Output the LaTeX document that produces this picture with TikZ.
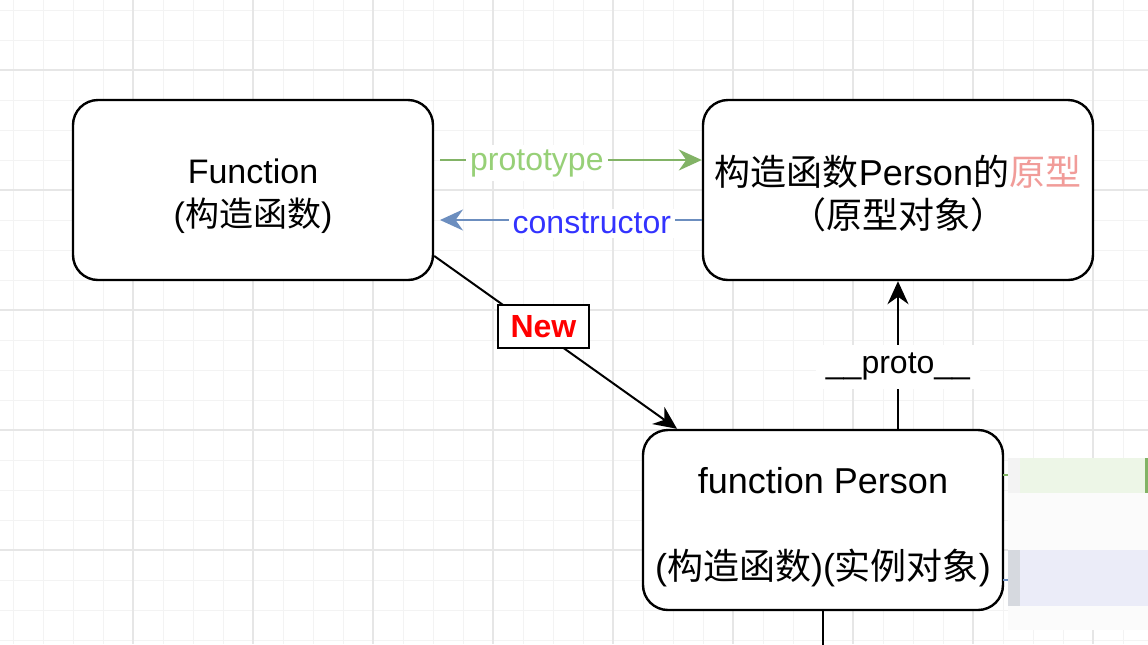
\documentclass[tikz,border=0pt]{standalone}
\usepackage{fontspec}
\setmainfont{Liberation Sans}
\newfontfamily\cjk{Noto Sans CJK SC}
\usepackage{xcolor}
\usepackage{tikz}
\usetikzlibrary{arrows.meta}

\definecolor{protogreen}{HTML}{82B366}
\definecolor{protolabel}{HTML}{97D077}
\definecolor{consblue}{HTML}{6C8EBF}
\definecolor{conslabel}{HTML}{3333FF}
\definecolor{pinkred}{HTML}{F19C99}
\definecolor{gridminor}{HTML}{F3F3F3}
\definecolor{gridmajor}{HTML}{E6E6E6}
\definecolor{blurwhite}{HTML}{FBFBFB}
\definecolor{blurgreen}{HTML}{EDF6E7}
\definecolor{blurblue}{HTML}{EBECF8}
\definecolor{blurgray}{HTML}{D6D9DF}

% strut that lowers the text of a box
\newcommand{\tup}[1]{\rule{0pt}{#1}}

\begin{document}
\begin{tikzpicture}[x=0.5pt, y=-0.5pt,
    box/.style={rectangle, draw, line width=1.2pt, rounded corners=12.5pt,
        fill=white, align=center, minimum height=90pt},
    lbl/.style={fill=white, inner sep=2pt, yshift=-1.5pt,
        font=\fontsize{16}{19}\selectfont},
    tip/.style={-{Stealth[length=11.5pt,width=10.5pt]}, line width=1pt}]

\useasboundingbox (0,0) rectangle (1148,644);
\fill[white] (0,0) rectangle (1148,644);

% grid
\foreach \x in {13,43,...,1148} \draw[gridminor, line width=0.5pt] (\x,0) -- (\x,644);
\foreach \y in {10,40,...,644} \draw[gridminor, line width=0.5pt] (0,\y) -- (1148,\y);
\foreach \x in {133,253,...,1148} \draw[gridmajor, line width=0.8pt] (\x,0) -- (\x,644);
\foreach \y in {70,190,...,644} \draw[gridmajor, line width=0.8pt] (0,\y) -- (1148,\y);

% boxes
\node[box, minimum width=180pt, font=\fontsize{17}{21.5}\selectfont] (func) at (253,190)
    {\tup{19pt}Function\\({\cjk 构造函数})};

\node[box, minimum width=195pt, font=\fontsize{18}{21.5}\selectfont] (proto) at (898,190)
    {\tup{19pt}{\cjk 构造函数}Person{\cjk 的\textcolor{pinkred}{原型}}\\{\cjk （原型对象）}};

\node[box, minimum width=180pt, font=\fontsize{18}{21.5}\selectfont] (pers) at (823,520)
    {\tup{20.7pt}function Person\\[21.5pt]({\cjk 构造函数})({\cjk 实例对象})};

% prototype / constructor
\coordinate (pa) at (440,160);
\coordinate (ca) at (440,220);
\draw[tip, protogreen] (pa) -- (pa -| proto.west)
    node[lbl, pos=0.37, text=protolabel] (protolbl) {prototype};
\draw[tip, consblue] (ca -| proto.west) -- (ca)
    node[lbl, pos=0.42, text=conslabel] (conslbl) {constructor};

% New
\draw[tip] (func.-20.7) -- (pers.148.7)
    node[pos=0.45, yshift=3.5pt, draw, line width=1pt, fill=white, text=red,
    inner sep=0pt, font=\fontsize{16}{19}\selectfont\bfseries,
    minimum width=45.5pt, minimum height=21.5pt] (newlbl) {New};

% __proto__
\draw[tip] (pers.north -| proto.south) -- (proto.south)
    node[lbl, pos=0.44, inner xsep=5pt, inner ysep=4pt] (uplbl) {\_\_proto\_\_};

\coordinate (cut) at (823,650);
\draw[line width=1pt] (pers.south) -- (cut);

% blurred part on the right
\fill[blurwhite] (1008,458) rectangle (1148,630);
\fill[gridminor] (1008,458) rectangle (1020,493);
\fill[blurgreen] (1020,458) rectangle (1148,493);
\fill[protogreen] (1145,458) rectangle (1148,493);
\fill[blurgray] (1008,550) rectangle (1020,606);
\fill[blurblue] (1020,550) rectangle (1148,606);
\draw[protogreen, line width=1pt] (1003,475) -- (1008,475);
\draw[consblue, line width=1pt] (1003,580) -- (1008,580);

\end{tikzpicture}
\end{document}
